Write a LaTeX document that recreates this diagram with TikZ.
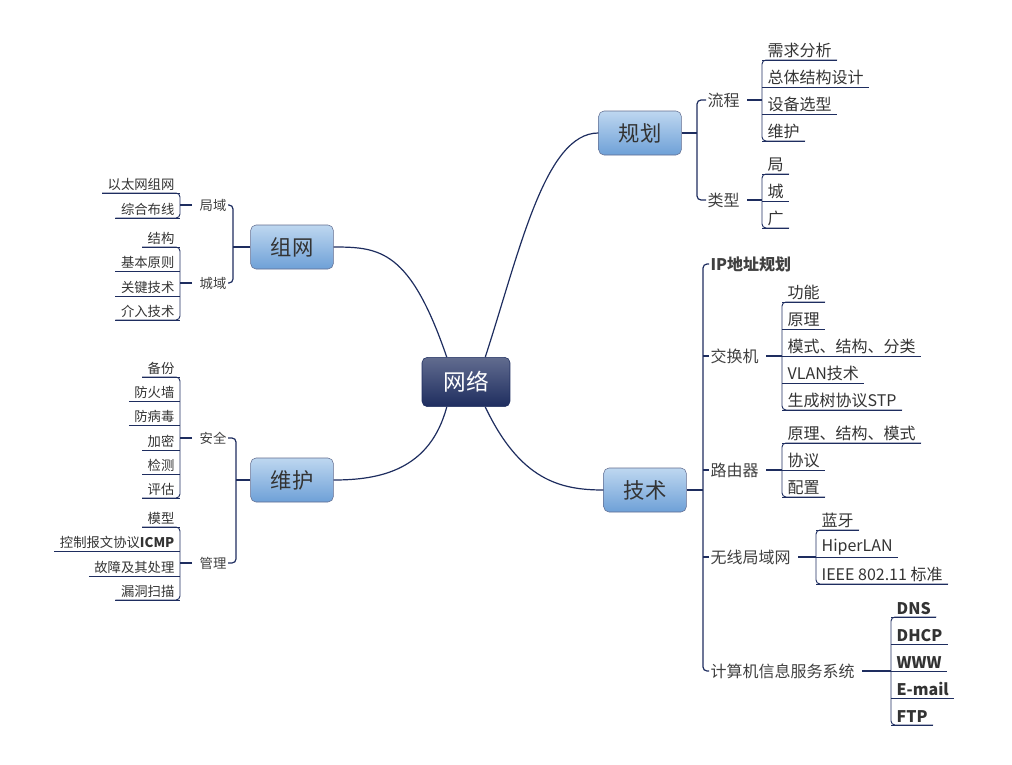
\documentclass[tikz,border=0pt]{standalone}
\usepackage{fontspec}
\setmainfont{Noto Sans CJK SC}
\usepackage{tikz}
\usetikzlibrary{calc}
\definecolor{navy}{RGB}{30,45,95}
\definecolor{boxtop}{RGB}{190,215,240}
\definecolor{boxbot}{RGB}{110,160,215}
\tikzset{
  link/.style={draw=navy,line width=0.9pt},
  topic/.style={draw=navy!70,rounded corners=4pt,top color=boxtop,bottom color=boxbot,
    minimum width=62pt,minimum height=33pt,font=\fontsize{16}{18}\selectfont,text=black!80},
  sub/.style={font=\fontsize{12}{14}\selectfont,text=black!75,inner sep=1pt},
  subl/.style={font=\fontsize{10}{12}\selectfont,text=black!75,inner sep=1pt},
  leafr/.style={anchor=south west,font=\fontsize{12}{14}\selectfont,text=black!80,inner xsep=4pt,inner ysep=1.5pt},
  leafl/.style={anchor=south east,font=\fontsize{10}{12}\selectfont,text=black!80,inner xsep=4pt,inner ysep=1.5pt}
}
\begin{document}
\begin{tikzpicture}[x=0.75pt,y=-0.75pt]
\useasboundingbox (0,0) rectangle (1012,764);
% main topics
\node[topic,draw=navy,top color=navy!70,bottom color=navy,text=white,minimum width=66pt,minimum height=37pt,font=\fontsize{17}{19}\selectfont] (net) at (466,382) {网络};
\node[topic] (plan) at (640,133) {规划};
\node[topic] (tech) at (645,490) {技术};
\node[topic] (group) at (292,247) {组网};
\node[topic] (maint) at (292,480) {维护};
\draw[link] (net.north east) ++(-25,0) .. controls (520,250) and (545,133) .. (plan.west);
\draw[link] (net.south east) ++(-25,0) .. controls (520,480) and (560,490) .. (tech.west);
\draw[link] (net.north west) ++(25,0) .. controls (410,250) and (380,247) .. (group.east);
\draw[link] (net.south west) ++(25,0) .. controls (430,470) and (380,480) .. (maint.east);
% second level
\node[sub,anchor=west] (flow) at (706,100) {流程};
\node[sub,anchor=west] (kind) at (706,200) {类型};
\draw[link] (plan.east) -- (697,133);
\draw[link,rounded corners=3pt] (flow.west) -- (697,100) -- (697,200) -- (kind.west);
\node[sub,anchor=west,font=\fontsize{12}{14}\selectfont\bfseries] (ip) at (709,264) {IP地址规划};
\node[sub,anchor=west] (switch) at (709,356) {交换机};
\node[sub,anchor=west] (router) at (709,470) {路由器};
\node[sub,anchor=west] (wlan) at (709,557) {无线局域网};
\node[sub,anchor=west] (svc) at (709,671) {计算机信息服务系统};
\draw[link] (tech.east) -- (703,490);
\draw[link,rounded corners=3pt] (ip.west) -- (703,264) -- (703,671) -- (svc.west);
\foreach \n in {switch,router,wlan} \draw[link] (\n.west) -- (703,0 |- \n.west);
\node[subl,anchor=east] (lan) at (228,205) {局域};
\node[subl,anchor=east] (man) at (228,283) {城域};
\draw[link] (group.west) -- (233,247);
\draw[link,rounded corners=3pt] (lan.east) -- (233,205) -- (233,283) -- (man.east);
\node[subl,anchor=east] (safe) at (228,438) {安全};
\node[subl,anchor=east] (mgmt) at (228,563) {管理};
\draw[link] (maint.west) -- (236,480);
\draw[link,rounded corners=3pt] (safe.east) -- (236,438) -- (236,563) -- (mgmt.east);
% leaves right
\foreach \y/\n/\t in {60/a1/需求分析,87/a2/总体结构设计,114/a3/设备选型,141/a4/维护}
  \node[leafr] (\n) at (762,\y) {\t};
\foreach \y/\n/\t in {174/b1/局,201/b2/城,228/b3/广}
  \node[leafr] (\n) at (762,\y) {\t};
\foreach \y/\n/\t in {302/c1/功能,329/c2/原理,356/c3/模式、结构、分类,383/c4/VLAN技术,410/c5/生成树协议STP}
  \node[leafr] (\n) at (782,\y) {\t};
\foreach \y/\n/\t in {443/d1/原理、结构、模式,470/d2/协议,497/d3/配置}
  \node[leafr] (\n) at (782,\y) {\t};
\foreach \y/\n/\t in {530/e1/蓝牙,557/e2/HiperLAN,584/e3/IEEE 802.11 标准}
  \node[leafr] (\n) at (816,\y) {\t};
\foreach \y/\n/\t in {617/f1/DNS,644/f2/DHCP,671/f3/WWW,698/f4/E-mail,725/f5/FTP}
  \node[leafr,font=\fontsize{12}{14}\selectfont\bfseries] (\n) at (891,\y) {\t};
% leaves left
\foreach \y/\n/\t in {193/g1/以太网组网,218/g2/综合布线}
  \node[leafl] (\n) at (180,\y) {\t};
\foreach \y/\n/\t in {247/h1/结构,271/h2/基本原则,296/h3/关键技术,320/h4/介入技术}
  \node[leafl] (\n) at (180,\y) {\t};
\foreach \y/\n/\t in {377/i1/备份,401/i2/防火墙,425/i3/防病毒,450/i4/加密,474/i5/检测,498/i6/评估}
  \node[leafl] (\n) at (180,\y) {\t};
\foreach \y/\n/\t in {527/j1/模型,551/j2/控制报文协议{\bfseries ICMP},576/j3/故障及其处理,600/j4/漏洞扫描}
  \node[leafl] (\n) at (180,\y) {\t};
% underlines
\foreach \n in {a1,a2,a3,a4,b1,b2,b3,c1,c2,c3,c4,c5,d1,d2,d3,e1,e2,e3,f1,f2,f3,f4,f5,g1,g2,h1,h2,h3,h4,i1,i2,i3,i4,i5,i6,j1,j2,j3,j4}
  \draw[link,line width=0.7pt] (\n.south west) -- (\n.south east);
% brackets
\foreach \p/\f/\l in {flow/a1/a4,kind/b1/b3,switch/c1/c5,router/d1/d3,wlan/e1/e3,svc/f1/f5} {
  \draw[link,line width=0.7pt,rounded corners=3pt] (\f.south east) -- (\f.south west) -- (\l.south west) -- (\l.south east);
  \draw[link] ($(\p.east)+(6,0)$) -- (\f.south west |- \p.east);
}
\foreach \p/\f/\l in {lan/g1/g2,man/h1/h4,safe/i1/i6,mgmt/j1/j4} {
  \draw[link,line width=0.7pt,rounded corners=3pt] (\f.south west) -- (\f.south east) -- (\l.south east) -- (\l.south west);
  \draw[link] ($(\p.west)+(-6,0)$) -- (\f.south east |- \p.west);
}
\end{tikzpicture}
\end{document}
